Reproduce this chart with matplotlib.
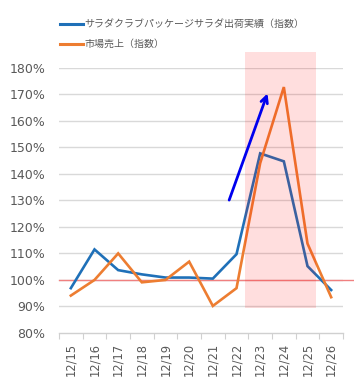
import matplotlib
matplotlib.use("Agg")
import matplotlib.pyplot as plt
from matplotlib.lines import Line2D
from matplotlib.patches import Rectangle

plt.rcParams['font.family'] = ['DejaVu Sans', 'Noto Sans CJK JP']

dates = ["12/15", "12/16", "12/17", "12/18", "12/19", "12/20",
         "12/21", "12/22", "12/23", "12/24", "12/25", "12/26"]
shipments = [96.9, 111.5, 103.7, 102.1, 100.9, 100.9, 100.5, 109.7, 147.7, 144.7, 105.2, 96.2]
market = [94.1, 100.0, 110.0, 99.1, 100.0, 106.9, 90.2, 96.9, 144.0, 172.7, 113.7, 93.5]
series_names = ["サラダクラブパッケージサラダ出荷実績（指数）", "市場売上（指数）"]
yticks = [80, 90, 100, 110, 120, 130, 140, 150, 160, 170, 180]

W, H = 354, 383
fig = plt.figure(figsize=(W / 100, H / 100), dpi=100)
ax = fig.add_axes([59 / W, 1 - 333 / H, (343 - 59) / W, (333 - 67.7) / H])

x = list(range(len(dates)))
blue = '#1f70b8'
orange = '#ed7d31'
ax.plot(x, shipments, color=blue, lw=1.9, zorder=3, solid_joinstyle='miter')
ax.plot(x, market, color=orange, lw=1.9, zorder=3, solid_joinstyle='miter')

ax.set_xlim(-0.5, len(dates) - 0.5)
ax.set_ylim(80, 180)
ax.set_yticks(yticks)
ax.set_yticklabels([f"{v}%" for v in yticks])
ax.set_xticks(x)
ax.set_xticklabels(dates, rotation=90)
ax.set_xticks([i - 0.5 for i in range(len(dates) + 1)], minor=True)
ax.tick_params(axis='x', which='major', length=0, pad=7, labelsize=8.3, colors='#595959')
ax.tick_params(axis='x', which='minor', length=4, color='#d0d0d0', width=0.8)
ax.tick_params(axis='y', length=0, pad=10, labelsize=9, colors='#595959')

for v in yticks[1:]:
    ax.axhline(v, color='#d9d9d9', lw=1.0, zorder=1)
for s in ['top', 'right', 'left']:
    ax.spines[s].set_visible(False)
ax.spines['bottom'].set_color('#d0d0d0')
ax.spines['bottom'].set_linewidth(1.0)

# red reference line at 100%
ax.axhline(100, xmin=0, xmax=(354 - 59) / (343 - 59), color='#f08080', lw=1.0,
           zorder=2, clip_on=False)

# highlight rectangle
rect = Rectangle((7.35, 89.5), 10.34 - 7.35, 185.9 - 89.5, facecolor=(1, 0, 0),
                 alpha=0.13, edgecolor='none', zorder=4, clip_on=False)
ax.add_patch(rect)

# arrow
ax.annotate("", xy=(8.31, 170.3), xytext=(6.69, 130.1),
            arrowprops=dict(arrowstyle='->', color='#0000ee', lw=2.0,
                            mutation_scale=12, shrinkA=0, shrinkB=0),
            zorder=6)

# legend (manual)
for (ypx, col, name) in [(24, blue, series_names[0]), (44, orange, series_names[1])]:
    yf = 1 - ypx / H
    fig.add_artist(Line2D([60 / W, 83 / W], [yf, yf], color=col, lw=2.2))
    fig.text(84 / W, yf, name, fontsize=7.2, color='#595959', va='center', ha='left',
             family=['Noto Sans CJK JP', 'DejaVu Sans'])

fig.savefig('out.png', dpi=100)
